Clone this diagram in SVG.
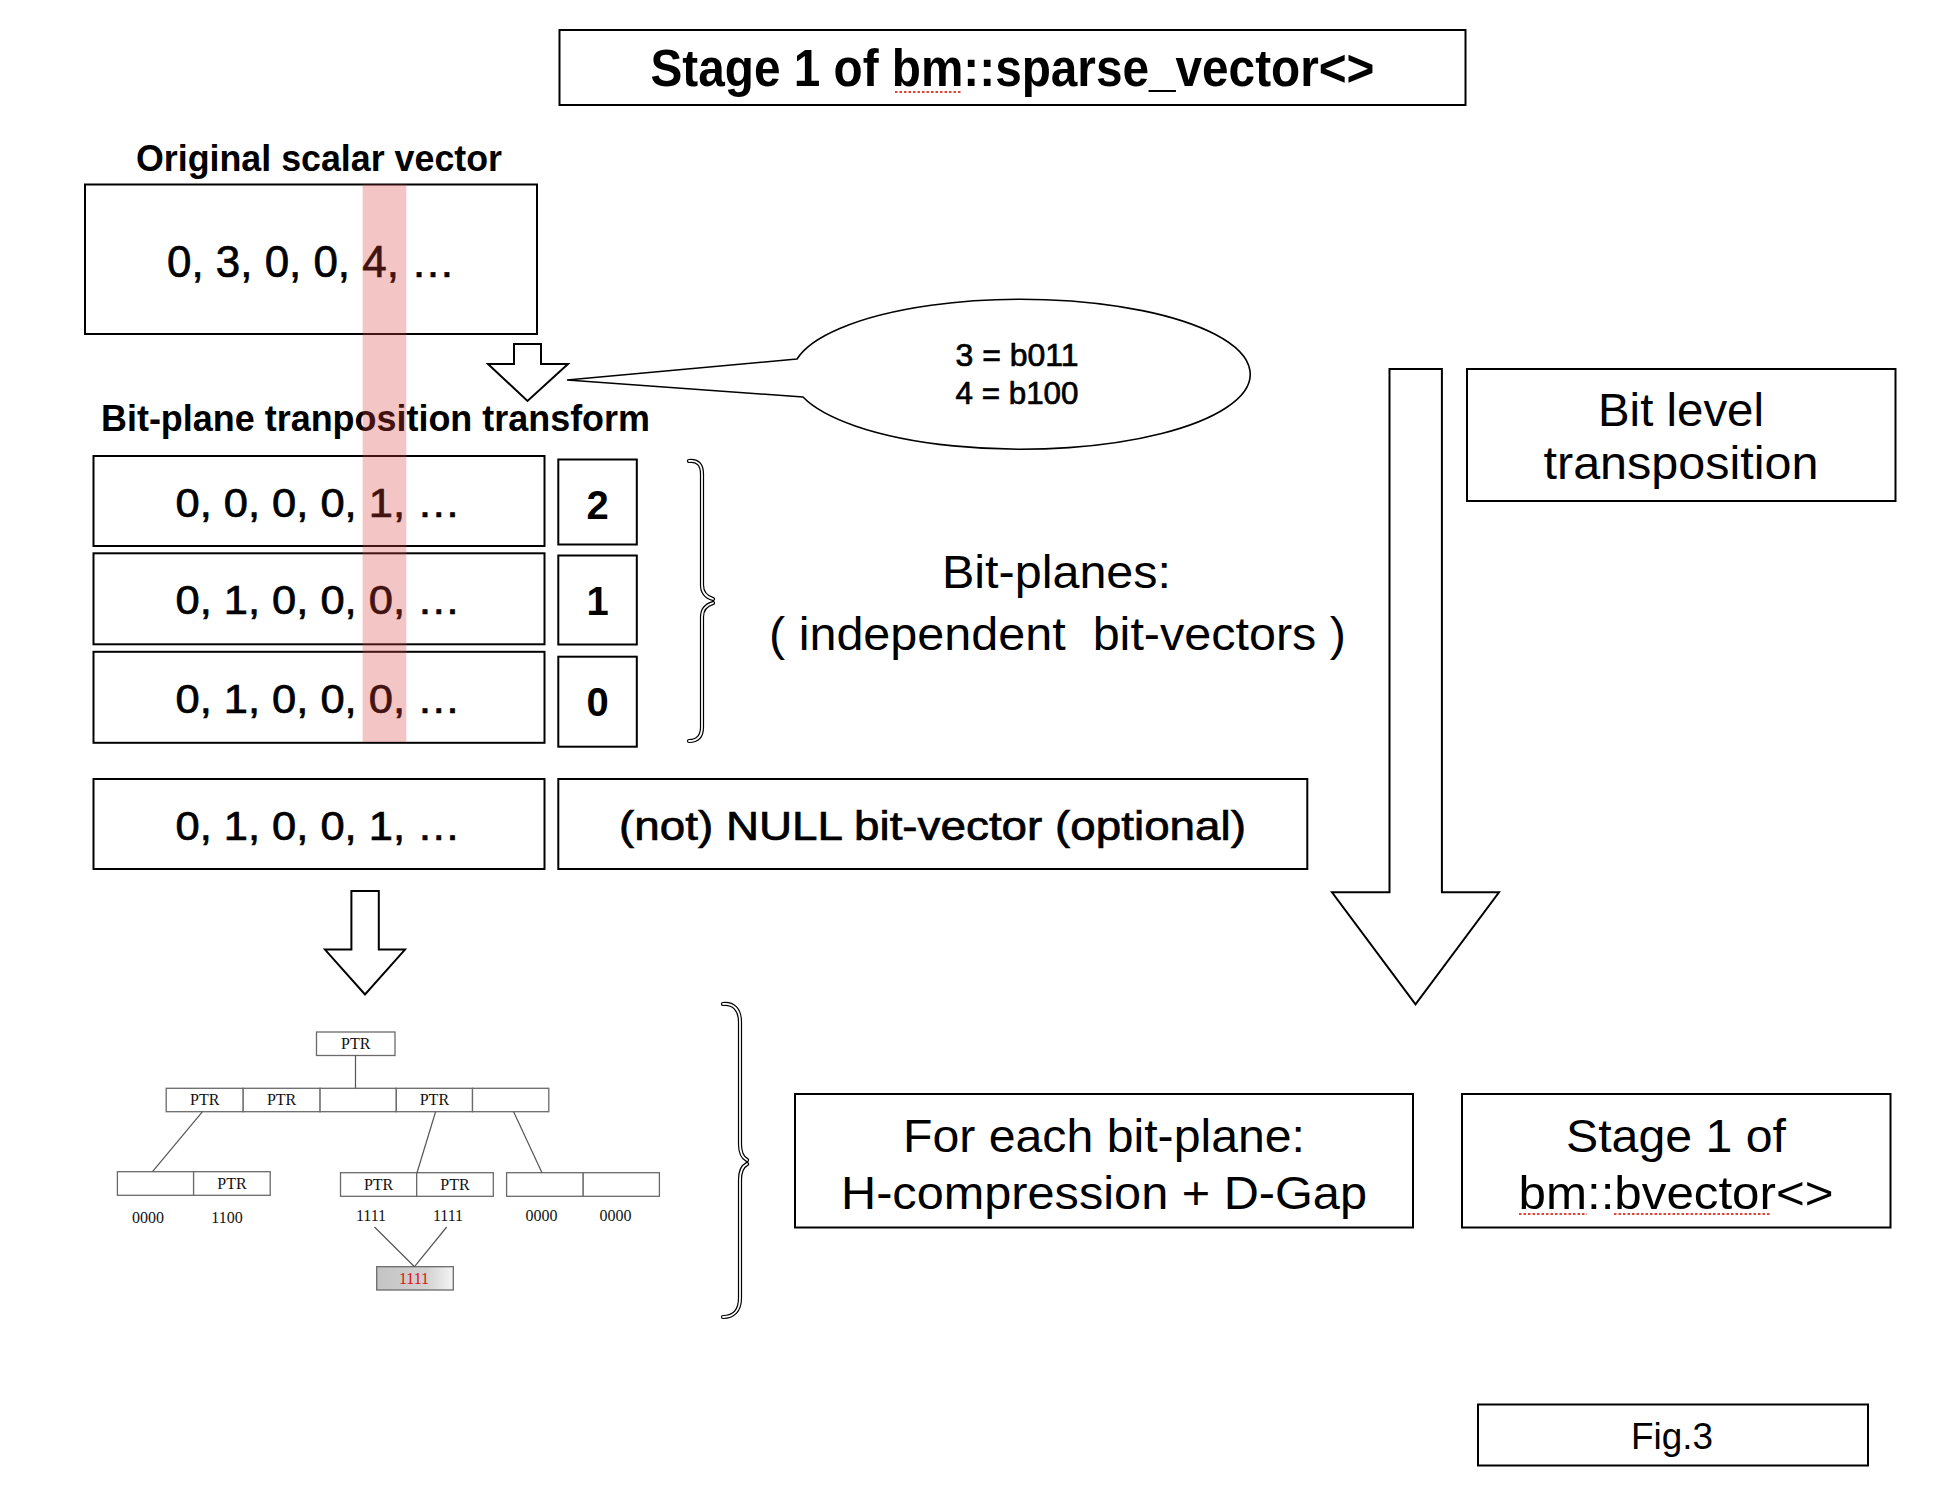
<svg xmlns="http://www.w3.org/2000/svg" width="1954" height="1508" viewBox="0 0 1954 1508">
<defs>
<style>
.box{fill:#fff;stroke:#000;stroke-width:2}
.t{font-family:"Liberation Sans",Arial,Helvetica,sans-serif;fill:#000;text-anchor:middle}
.b{font-weight:bold}
.m{stroke:#000;stroke-width:0.7}
.arrow{fill:#fff;stroke:#000;stroke-width:2;stroke-linejoin:miter}
.brace{fill:none;stroke:#000;stroke-width:4.2;stroke-linecap:round}
.bracein{fill:none;stroke:#fff;stroke-width:1.8;stroke-linecap:round}
.tree{fill:#fff;stroke:#6a6a6a;stroke-width:1.3}
.tl{stroke:#555;stroke-width:1.2;fill:none}
.tt{font-family:"Liberation Serif","Times New Roman",serif;font-size:16px;fill:#111;text-anchor:middle}
.sq{stroke:#e0443a;stroke-width:2.2;stroke-dasharray:2.5 2;fill:none}
</style>
<linearGradient id="gbox" x1="0" y1="0" x2="1" y2="0">
<stop offset="0" stop-color="#c4c4c4"/>
<stop offset="0.65" stop-color="#d2d2d2"/>
<stop offset="1" stop-color="#f4f4f4"/>
</linearGradient>
</defs>
<rect width="1954" height="1508" fill="#fff"/>

<g id="title">
<rect class="box" x="559.5" y="30" width="906" height="75"/>
<text class="t b" x="1012.5" y="85.5" font-size="51" textLength="724" lengthAdjust="spacingAndGlyphs">Stage 1 of bm::sparse_vector&lt;&gt;</text>
<line class="sq" x1="895" y1="92" x2="962" y2="92"/>
</g>

<g id="original">
<text class="t b" x="319" y="171" font-size="36" textLength="366" lengthAdjust="spacingAndGlyphs">Original scalar vector</text>
<rect class="box" x="85" y="184.5" width="452" height="149.5"/>
<text class="t m" x="311" y="277" font-size="44" textLength="288" lengthAdjust="spacingAndGlyphs">0, 3, 0, 0, 4, …</text>
</g>

<g id="transform-label">
<text class="t b" x="375.5" y="431" font-size="36" textLength="549" lengthAdjust="spacingAndGlyphs">Bit-plane tranposition transform</text>
</g>

<g id="plane2">
<rect class="box" x="93.5" y="456" width="451" height="90"/>
<text class="t m" x="318" y="517" font-size="40" textLength="285" lengthAdjust="spacingAndGlyphs">0, 0, 0, 0, 1, …</text>
</g>
<g id="plane1">
<rect class="box" x="93.5" y="553.3" width="451" height="91"/>
<text class="t m" x="318" y="614" font-size="40" textLength="285" lengthAdjust="spacingAndGlyphs">0, 1, 0, 0, 0, …</text>
</g>
<g id="plane0">
<rect class="box" x="93.5" y="651.8" width="451" height="91"/>
<text class="t m" x="318" y="713" font-size="40" textLength="285" lengthAdjust="spacingAndGlyphs">0, 1, 0, 0, 0, …</text>
</g>
<g id="idx2">
<rect class="box" x="558.3" y="459.5" width="78.5" height="85"/>
<text class="t b" x="597.6" y="518.6" font-size="40">2</text>
</g>
<g id="idx1">
<rect class="box" x="558.3" y="555.5" width="78.5" height="89"/>
<text class="t b" x="597.6" y="615" font-size="40">1</text>
</g>
<g id="idx0">
<rect class="box" x="558.3" y="656.7" width="78.5" height="90"/>
<text class="t b" x="597.6" y="716" font-size="40">0</text>
</g>
<g id="nullvec">
<rect class="box" x="93.5" y="779" width="451" height="90"/>
<text class="t m" x="318" y="840" font-size="40" textLength="285" lengthAdjust="spacingAndGlyphs">0, 1, 0, 0, 1, …</text>
</g>
<g id="nulllabel">
<rect class="box" x="558.3" y="779" width="749" height="90"/>
<text class="t m" x="932.5" y="840" font-size="40" textLength="627" lengthAdjust="spacingAndGlyphs">(not) NULL bit-vector (optional)</text>
</g>

<g id="highlight">
<rect x="362.6" y="184.4" width="43.7" height="557.5" fill="#d6403a" opacity="0.3"/>
</g>

<g id="callout">
<path d="M797,359 L567,380 L803,397 A229 75 0 1 0 797,359 Z" fill="#fff" stroke="#000" stroke-width="1.6"/>
<text class="t m" x="1017" y="366" font-size="31" textLength="123" lengthAdjust="spacingAndGlyphs" stroke-width="0.5">3 = b011</text>
<text class="t m" x="1017" y="404" font-size="31" textLength="123" lengthAdjust="spacingAndGlyphs" stroke-width="0.5">4 = b100</text>
</g>

<g id="bitplanes-label">
<text class="t" x="1056.5" y="588" font-size="47" textLength="229" lengthAdjust="spacingAndGlyphs">Bit-planes:</text>
<text class="t" x="1057.5" y="650" font-size="47" textLength="577" lengthAdjust="spacingAndGlyphs" xml:space="preserve" style="white-space:pre">( independent  bit-vectors )</text>
</g>

<g id="bitlevel">
<rect class="box" x="1467" y="369" width="428.5" height="132"/>
<text class="t" x="1681" y="426" font-size="46" textLength="166" lengthAdjust="spacingAndGlyphs">Bit level</text>
<text class="t" x="1681" y="479" font-size="46" textLength="275" lengthAdjust="spacingAndGlyphs">transposition</text>
</g>

<g id="foreach">
<rect class="box" x="795" y="1094" width="618" height="133.5"/>
<text class="t" x="1104" y="1152" font-size="47" textLength="402" lengthAdjust="spacingAndGlyphs">For each bit-plane:</text>
<text class="t" x="1104" y="1209" font-size="47" textLength="526" lengthAdjust="spacingAndGlyphs">H-compression + D-Gap</text>
</g>

<g id="bvector">
<rect class="box" x="1462" y="1094" width="428.5" height="133.5"/>
<text class="t" x="1676" y="1152" font-size="47" textLength="220" lengthAdjust="spacingAndGlyphs">Stage 1 of</text>
<text class="t" x="1676" y="1209" font-size="47" textLength="315" lengthAdjust="spacingAndGlyphs">bm::bvector&lt;&gt;</text>
<line class="sq" x1="1519" y1="1214" x2="1587" y2="1214"/>
<line class="sq" x1="1614" y1="1214" x2="1771" y2="1214"/>
</g>

<g id="fig">
<rect class="box" x="1478" y="1404.5" width="390" height="61"/>
<text class="t" x="1672" y="1449" font-size="37" textLength="82" lengthAdjust="spacingAndGlyphs">Fig.3</text>
</g>

<g id="tree">
<rect class="tree" x="316.5" y="1032" width="78.5" height="23.5"/>
<text class="tt" x="355.7" y="1049">PTR</text>
<rect class="tree" x="166.2" y="1088.3" width="77" height="23.4"/>
<rect class="tree" x="243.2" y="1088.3" width="76.9" height="23.4"/>
<rect class="tree" x="320.1" y="1088.3" width="76.2" height="23.4"/>
<rect class="tree" x="396.3" y="1088.3" width="76.2" height="23.4"/>
<rect class="tree" x="472.5" y="1088.3" width="76.3" height="23.4"/>
<text class="tt" x="204.7" y="1105">PTR</text>
<text class="tt" x="281.6" y="1105">PTR</text>
<text class="tt" x="434.4" y="1105">PTR</text>
<rect class="tree" x="117.4" y="1171.7" width="76.2" height="23.6"/>
<rect class="tree" x="193.6" y="1171.7" width="76.6" height="23.6"/>
<text class="tt" x="232" y="1189">PTR</text>
<rect class="tree" x="340.5" y="1172.7" width="76.2" height="23.6"/>
<rect class="tree" x="416.7" y="1172.7" width="76.6" height="23.6"/>
<text class="tt" x="378.6" y="1190">PTR</text>
<text class="tt" x="455" y="1190">PTR</text>
<rect class="tree" x="506.6" y="1172.7" width="76.6" height="23.6"/>
<rect class="tree" x="583.2" y="1172.7" width="76.2" height="23.6"/>
<text class="tt" x="148" y="1223">0000</text>
<text class="tt" x="227" y="1223">1100</text>
<text class="tt" x="371" y="1221">1111</text>
<text class="tt" x="448" y="1221">1111</text>
<text class="tt" x="541.4" y="1221">0000</text>
<text class="tt" x="615.4" y="1221">0000</text>
<rect x="376.7" y="1266.7" width="76.6" height="23.3" fill="url(#gbox)" stroke="#6a6a6a" stroke-width="1.3"/>
<text class="tt" x="414" y="1284" style="fill:#e01010">1111</text>
</g>

<g id="connectors">
<polygon class="arrow" points="514,344 541,344 541,364 568,364 527.5,401 488,364 514,364"/>
<polygon class="arrow" points="351.4,891 378.8,891 378.8,949.6 405,949.6 365,994.5 325,949.6 351.4,949.6"/>
<polygon class="arrow" points="1389.5,369 1441.9,369 1441.9,892.3 1499,892.3 1415.5,1004.4 1332,892.3 1389.5,892.3"/>
<path class="brace" d="M689,461 C697,460 702,464 702,474 L702,585 C702,592 706,597 713,599"/>
<path class="bracein" d="M689,461 C697,460 702,464 702,474 L702,585 C702,592 706,597 713,599"/>
<path class="brace" d="M713,603 C706,605 702,610 702,617 L702,727 C702,737 697,741 689,741"/>
<path class="bracein" d="M713,603 C706,605 702,610 702,617 L702,727 C702,737 697,741 689,741"/>
<path class="brace" d="M723,1004 C733,1003 740,1009 740,1022 L740,1144 C740,1153 743,1158 747,1160"/>
<path class="bracein" d="M723,1004 C733,1003 740,1009 740,1022 L740,1144 C740,1153 743,1158 747,1160"/>
<path class="brace" d="M747,1164 C743,1166 740,1171 740,1180 L740,1298 C740,1311 733,1317 723,1317"/>
<path class="bracein" d="M747,1164 C743,1166 740,1171 740,1180 L740,1298 C740,1311 733,1317 723,1317"/>
<line class="tl" x1="355.5" y1="1055.5" x2="355.5" y2="1088.3"/>
<line class="tl" x1="202.5" y1="1111.7" x2="152.5" y2="1171.7"/>
<line class="tl" x1="435.6" y1="1111.7" x2="417" y2="1172.7"/>
<line class="tl" x1="513.6" y1="1111.7" x2="542" y2="1172.7"/>
<line class="tl" x1="374.5" y1="1227" x2="414.5" y2="1266.7"/>
<line class="tl" x1="446.7" y1="1227" x2="414.5" y2="1266.7"/>
</g>
</svg>
